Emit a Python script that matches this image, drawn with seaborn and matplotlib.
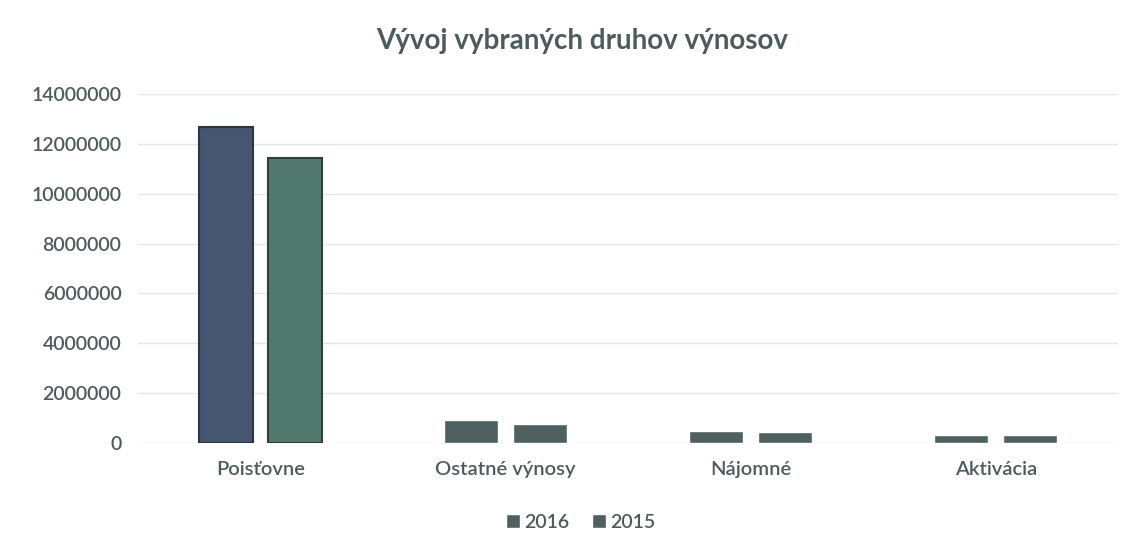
import matplotlib
matplotlib.use("Agg")
import matplotlib.pyplot as plt
import pandas as pd
import seaborn as sns

categories = ["Poisťovne", "Ostatné výnosy", "Nájomné", "Aktivácia"]
years = ["2016", "2015"]
values_2016 = [12690000, 940000, 460000, 310000]
values_2015 = [11440000, 750000, 420000, 300000]

df = pd.DataFrame({
    "kategoria": categories * 2,
    "rok": [years[0]] * 4 + [years[1]] * 4,
    "hodnota": values_2016 + values_2015,
})

sns.set_theme(style="white")
plt.rcParams["font.family"] = ["Lato", "DejaVu Sans"]
txt = "#4c5b5c"
slate = "#4f6061"

fig = plt.figure(figsize=(11.32, 5.53), dpi=100)
ax = fig.add_axes([0.122, 0.199, 0.866, 0.631])

sns.barplot(data=df, x="kategoria", y="hodnota", hue="rok", order=categories,
            hue_order=years, palette=[slate, slate], width=0.563, gap=0.217,
            saturation=1, ax=ax, legend=True)

# prvá skupina má v origináli farebné stĺpce
big = {0: ("#46566f", "#2c3642"), 4: ("#52796d", "#2f3f3a")}
for i, p in enumerate(ax.patches[:8]):
    if i in big:
        p.set_facecolor(big[i][0])
        p.set_edgecolor(big[i][1])
        p.set_linewidth(1.5)

ax.set_ylim(0, 14000000)
ax.set_xlim(-0.5, 3.5)
ax.set_yticks(range(0, 14000001, 2000000))
ax.set_yticklabels([str(v) for v in range(0, 14000001, 2000000)])
ax.yaxis.grid(True, color="#e4e6e6", linewidth=1)
ax.set_axisbelow(True)
for s in ax.spines.values():
    s.set_visible(False)
ax.tick_params(axis="both", length=0, labelcolor=txt)
ax.tick_params(axis="x", pad=13, labelsize=14.5)
ax.tick_params(axis="y", pad=12, labelsize=14)
for lab in ax.get_xticklabels() + ax.get_yticklabels():
    lab.set_fontweight("semibold")
ax.set_xlabel("")
ax.set_ylabel("")

fig.suptitle("Vývoj vybraných druhov výnosov", x=0.514, y=0.95,
             fontsize=20, color=txt, fontweight="bold")

handles, labels = ax.get_legend_handles_labels()
ax.get_legend().remove()
fig.legend(handles, labels, loc="center", bbox_to_anchor=(0.513, 0.056), ncol=2,
           frameon=False, fontsize=14, handlelength=0.7, handleheight=0.7,
           handletextpad=0.2, columnspacing=1.2, labelcolor=txt,
           prop={"weight": "semibold", "size": 14})

fig.savefig("out.png", dpi=100)
